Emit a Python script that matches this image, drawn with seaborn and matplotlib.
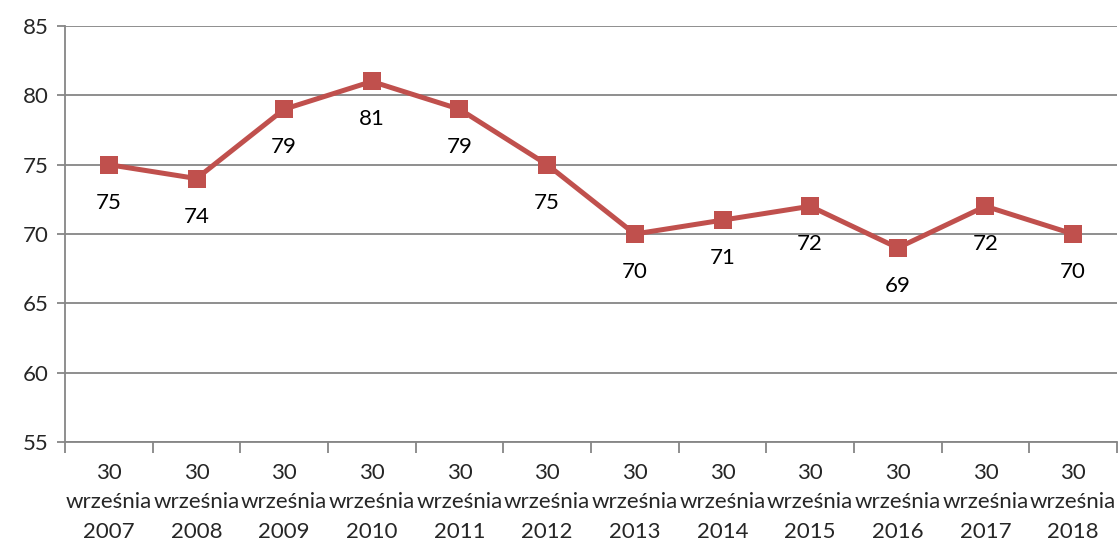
import matplotlib
matplotlib.use("Agg")
import matplotlib.pyplot as plt
import seaborn as sns
import pandas as pd

years = ["2007", "2008", "2009", "2010", "2011", "2012",
         "2013", "2014", "2015", "2016", "2017", "2018"]
values = [75, 74, 79, 81, 79, 75, 70, 71, 72, 69, 72, 70]
tick_labels = [f"30\nwrześnia\n{y}" for y in years]

df = pd.DataFrame({"date": tick_labels, "value": values})

sns.set_theme(style="white")
plt.rcParams["font.family"] = ["Lato", "DejaVu Sans"]

grid_col = "#868686"
line_col = "#C0504D"
fs = 16

fig = plt.figure(figsize=(11.19, 5.42), dpi=100)
ax = fig.add_axes([65 / 1119, 1 - 442 / 542, (1117 - 65) / 1119, (442 - 26) / 542])

sns.lineplot(data=df, x="date", y="value", ax=ax, color=line_col,
             linewidth=3.6, marker="s", markersize=13.5, markeredgewidth=0,
             sort=False)

for i, v in enumerate(values):
    ax.annotate(str(v), (i, v), xytext=(0, -38), textcoords="offset pixels",
                ha="center", va="center", fontsize=fs, color="black")

ax.set_ylim(55, 85)
ax.set_yticks(range(55, 86, 5))
ax.set_xlim(-0.5, len(years) - 0.5)
ax.set_xlabel("")
ax.set_ylabel("")

ax.yaxis.grid(True, color=grid_col, linewidth=1.3)
ax.set_axisbelow(True)
for s in ["top", "right"]:
    ax.spines[s].set_visible(False)
for s in ["left", "bottom"]:
    ax.spines[s].set_color(grid_col)
    ax.spines[s].set_linewidth(1.3)

ax.tick_params(axis="y", which="major", length=6, width=1.3, color=grid_col,
               labelsize=fs, pad=6, left=True)
ax.set_xticks(range(len(years)))
ax.set_xticklabels(tick_labels, fontsize=fs, linespacing=1.6)
ax.tick_params(axis="x", which="major", length=0, pad=15)
ax.set_xticks([i - 0.5 for i in range(len(years) + 1)], minor=True)
ax.tick_params(axis="x", which="minor", length=8, width=1.3, color=grid_col,
               bottom=True)

fig.savefig("out.png", dpi=100)
